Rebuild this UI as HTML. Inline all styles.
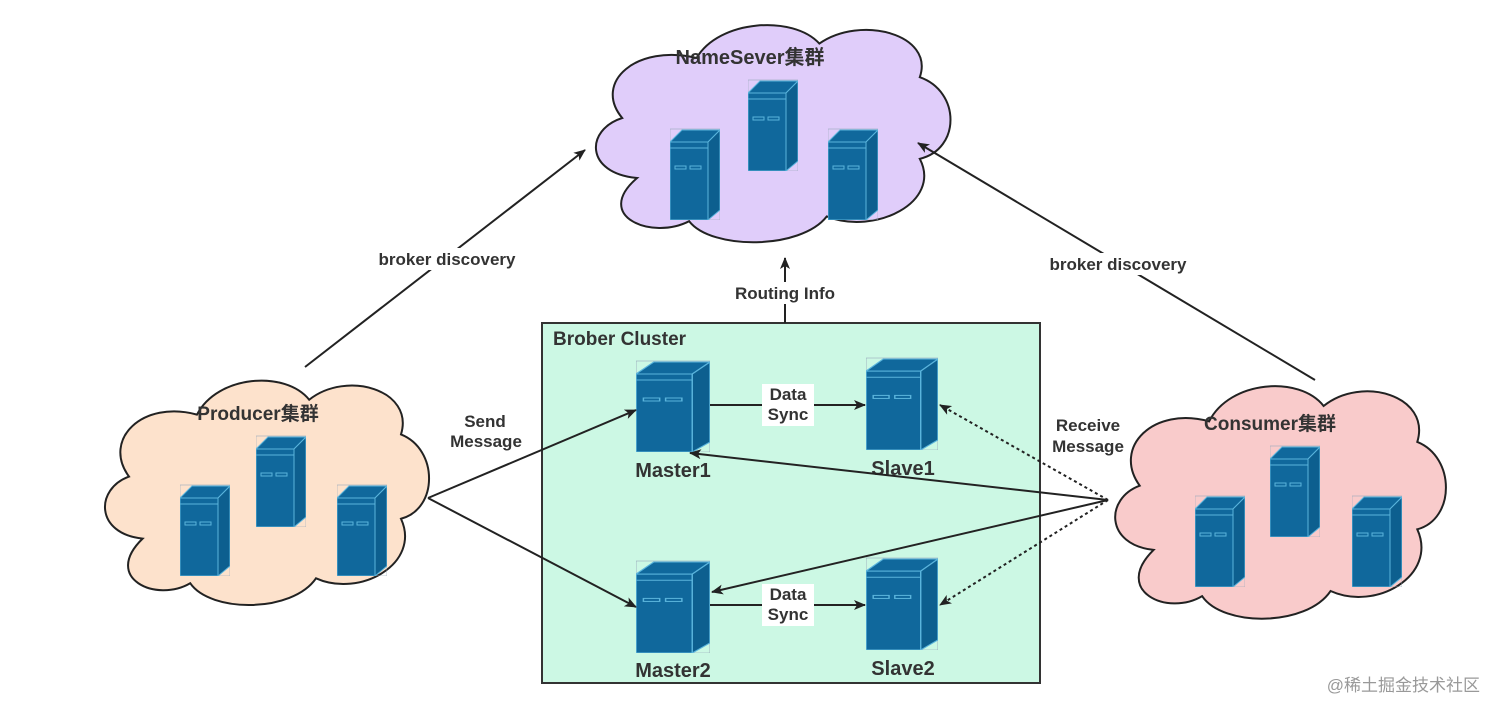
<!DOCTYPE html>
<html><head><meta charset="utf-8"><style>
html,body{margin:0;padding:0;background:#fff;}
svg{display:block;}
text{font-family:"Liberation Sans","Noto Sans CJK SC",sans-serif;font-weight:bold;fill:#333;}
</style></head><body>
<svg width="1500" height="715" viewBox="0 0 1500 715" xmlns="http://www.w3.org/2000/svg">
<defs>
<symbol id="srv" viewBox="0 0 50 92" preserveAspectRatio="none">
<rect x="0" y="1" width="50" height="91" fill="none" stroke="#9ab" stroke-width="0.6"/>
<polygon points="0,14 12,2 50,2 38,14" fill="#10689c" stroke="#5ab4dc" stroke-width="1"/>
<rect x="0" y="14" width="38" height="78" fill="#10689c" stroke="#5ab4dc" stroke-width="1"/>
<line x1="0" y1="20" x2="38" y2="20" stroke="#5ab4dc" stroke-width="1"/>
<polygon points="38,14 50,2 50,82 38,92" fill="#0d5f8f" stroke="#5ab4dc" stroke-width="1"/>
<rect x="5" y="38" width="11" height="3" fill="none" stroke="#5ab4dc" stroke-width="1"/>
<rect x="20" y="38" width="11" height="3" fill="none" stroke="#5ab4dc" stroke-width="1"/>
</symbol>
<symbol id="cloud" viewBox="0 0 100 100" preserveAspectRatio="none">
<path d="M14,70 C0,68 0,50 10,45 C2,30 14,14 30,20 C36,4 56,2 63,14 C74,2 94,10 90,28 C101,34 101,58 90,62 C96,80 78,94 65,86 C58,100 34,100 28,88 C18,96 2,86 14,70 Z" vector-effect="non-scaling-stroke"/>
</symbol>
<marker id="ah" markerWidth="12" markerHeight="10" refX="11" refY="5" orient="auto" markerUnits="userSpaceOnUse">
<polygon points="0,0 12,5 0,10 3,5" fill="#222"/>
</marker>
</defs>

<use href="#cloud" x="585" y="10" width="372" height="240" fill="#e0cdfa" stroke="#222" stroke-width="2"/>
<use href="#cloud" x="95" y="365" width="340" height="248" fill="#fde2cc" stroke="#222" stroke-width="2"/>
<use href="#cloud" x="1105" y="370" width="347" height="257" fill="#f9cbcb" stroke="#222" stroke-width="2"/>

<rect x="542" y="323" width="498" height="360" fill="#ccf8e4" stroke="#333" stroke-width="2"/>

<text x="750" y="64" font-size="20" text-anchor="middle">NameSever集群</text>
<text x="258" y="420" font-size="19" text-anchor="middle">Producer集群</text>
<text x="1270" y="430" font-size="19" text-anchor="middle">Consumer集群</text>
<text x="553" y="345" font-size="19">Brober Cluster</text>

<use href="#srv" x="748" y="79" width="50" height="92"/>
<use href="#srv" x="670" y="128" width="50" height="92"/>
<use href="#srv" x="828" y="128" width="50" height="92"/>
<use href="#srv" x="256" y="435" width="50" height="92"/>
<use href="#srv" x="180" y="484" width="50" height="92"/>
<use href="#srv" x="337" y="484" width="50" height="92"/>
<use href="#srv" x="1270" y="445" width="50" height="92"/>
<use href="#srv" x="1195" y="495" width="50" height="92"/>
<use href="#srv" x="1352" y="495" width="50" height="92"/>
<use href="#srv" x="636" y="360" width="74" height="92"/>
<use href="#srv" x="866" y="357" width="72" height="93"/>
<use href="#srv" x="636" y="560" width="74" height="93"/>
<use href="#srv" x="866" y="557" width="72" height="93"/>

<text x="673" y="477" font-size="20" text-anchor="middle">Master1</text>
<text x="903" y="475" font-size="20" text-anchor="middle">Slave1</text>
<text x="673" y="677" font-size="20" text-anchor="middle">Master2</text>
<text x="903" y="675" font-size="20" text-anchor="middle">Slave2</text>

<g stroke="#222" stroke-width="2" fill="none">
<line x1="305" y1="367" x2="585" y2="150" marker-end="url(#ah)"/>
<line x1="1315" y1="380" x2="918" y2="143" marker-end="url(#ah)"/>
<line x1="785" y1="323" x2="785" y2="258" marker-end="url(#ah)"/>
<line x1="428" y1="498" x2="636" y2="410" marker-end="url(#ah)"/>
<line x1="428" y1="498" x2="636" y2="607" marker-end="url(#ah)"/>
<line x1="710" y1="405" x2="865" y2="405" marker-end="url(#ah)"/>
<line x1="710" y1="605" x2="865" y2="605" marker-end="url(#ah)"/>
<line x1="1108" y1="500" x2="690" y2="453" marker-end="url(#ah)"/>
<line x1="1108" y1="500" x2="712" y2="592" marker-end="url(#ah)"/>
<line x1="1108" y1="500" x2="940" y2="405" stroke-dasharray="3,3" marker-end="url(#ah)"/>
<line x1="1108" y1="500" x2="940" y2="605" stroke-dasharray="3,3" marker-end="url(#ah)"/>
</g>

<rect x="360" y="248" width="175" height="22" fill="#fff"/>
<text x="447" y="265" font-size="17" text-anchor="middle">broker discovery</text>
<rect x="1031" y="253" width="175" height="22" fill="#fff"/>
<text x="1118" y="270" font-size="17" text-anchor="middle">broker discovery</text>
<rect x="718" y="282" width="134" height="22" fill="#fff"/>
<text x="785" y="299" font-size="17" text-anchor="middle">Routing Info</text>
<text x="485" y="427" font-size="17" text-anchor="middle">Send</text>
<text x="486" y="447" font-size="17" text-anchor="middle">Message</text>
<text x="1088" y="431" font-size="17" text-anchor="middle">Receive</text>
<text x="1088" y="452" font-size="17" text-anchor="middle">Message</text>
<rect x="762" y="384" width="52" height="42" fill="#fff"/>
<text x="788" y="400" font-size="17" text-anchor="middle">Data</text>
<text x="788" y="420" font-size="17" text-anchor="middle">Sync</text>
<rect x="762" y="584" width="52" height="42" fill="#fff"/>
<text x="788" y="600" font-size="17" text-anchor="middle">Data</text>
<text x="788" y="620" font-size="17" text-anchor="middle">Sync</text>

<text x="1480" y="691" font-size="17" text-anchor="end" style="font-weight:normal;fill:#999">@稀土掘金技术社区</text>
</svg>
</body></html>
